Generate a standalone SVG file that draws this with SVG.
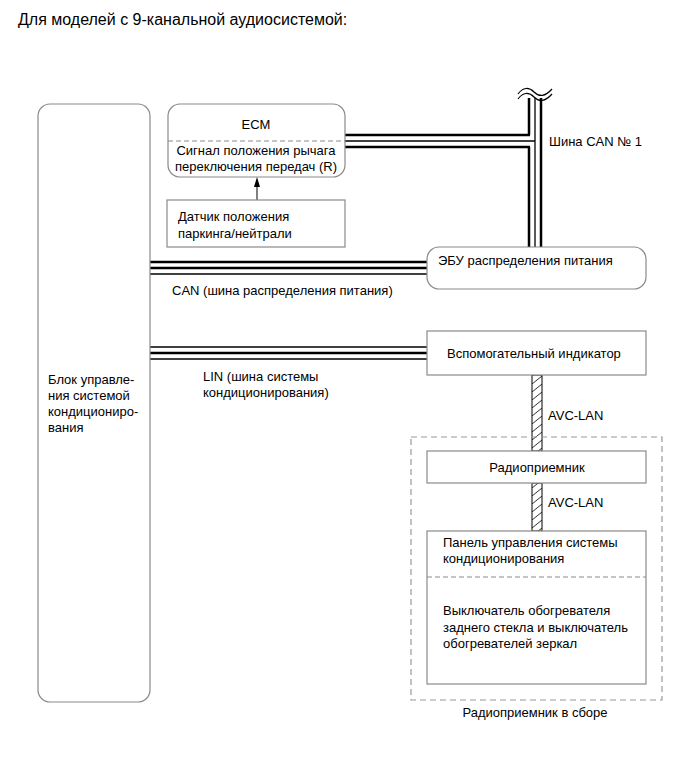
<svg xmlns="http://www.w3.org/2000/svg" width="687" height="759" viewBox="0 0 687 759">
<defs>
<style>
text{font-family:"Liberation Sans",Arial,sans-serif;font-size:13px;fill:#000}
.title{font-size:16px}
.box{fill:#fff;stroke:#8a8a8a;stroke-width:1.2}
.dv{stroke:#8a8a8a;stroke-width:1;stroke-dasharray:5 3;fill:none}
.outer{stroke:#999;stroke-width:1.2;stroke-dasharray:6 4;fill:none}
.bw{stroke:#000;stroke-width:2.5;fill:none}
.bn{stroke:#000;stroke-width:1.3;fill:none}
.hat{fill:url(#hatch);stroke:#000;stroke-width:1}
.mid{text-anchor:middle}
</style>
<pattern id="hatch" patternUnits="userSpaceOnUse" x="532" y="0" width="10" height="8">
<path d="M0,8 L10,0" stroke="#000" stroke-width="0.8"/>
</pattern>
</defs>
<rect width="687" height="759" fill="#fff"/>
<text class="title" x="18" y="25">Для моделей с 9-канальной аудиосистемой:</text>

<g id="connectors">
<path class="bw" d="M529,98 V135"/>
<path class="bw" d="M529,147 V247"/>
<path class="bn" d="M535,98 V247"/>
<path class="bw" d="M541,98 V247"/>
<path class="bw" d="M345,135 H530"/>
<path class="bn" d="M345,141 H535"/>
<path class="bw" d="M345,147 H530"/>
<path d="M518,94 C523,87 529,87 534,92 C539,97 545,97 552,89" stroke="#000" stroke-width="1.2" fill="none"/>
<path d="M518,99 C523,92 529,92 534,97 C539,102 545,102 552,94" stroke="#000" stroke-width="1.2" fill="none"/>
<path class="bw" d="M150,262 H427"/>
<path class="bw" d="M150,268 H427"/>
<path class="bn" d="M150,274 H427"/>
<path class="bn" d="M150,347 H427" stroke="#777"/>
<path class="bw" d="M150,353 H427"/>
<path class="bn" d="M150,359 H427"/>
<rect class="hat" x="532" y="375" width="10" height="76"/>
<rect class="hat" x="532" y="483" width="10" height="48"/>
<path d="M257,200 V185" stroke="#000" stroke-width="1"/>
<polygon points="257,177 254,187 260,187" fill="#000"/>
</g>

<g id="labels">
<text x="549" y="146">Шина CAN № 1</text>
<text x="172" y="295">CAN (шина распределения питания)</text>
<text x="203" y="381">LIN (шина системы</text>
<text x="203" y="397">кондиционирования)</text>
<text x="548" y="420">AVC-LAN</text>
<text x="548" y="507">AVC-LAN</text>
</g>

<g id="climate-ecu">
<rect class="box" x="38" y="104" width="112" height="598" rx="12"/>
<text x="48" y="384">Блок управле-</text>
<text x="48" y="400">ния системой</text>
<text x="48" y="416">кондициониро-</text>
<text x="48" y="432">вания</text>
</g>

<g id="ecm">
<rect class="box" x="168" y="104" width="177" height="73" rx="12"/>
<line class="dv" x1="168" y1="141" x2="345" y2="141"/>
<text class="mid" x="256" y="129">ECM</text>
<text class="mid" x="256" y="155">Сигнал положения рычага</text>
<text class="mid" x="256" y="171">переключения передач (R)</text>
</g>

<g id="sensor">
<rect class="box" x="167" y="200" width="178" height="47"/>
<text x="178" y="221">Датчик положения</text>
<text x="178" y="238">паркинга/нейтрали</text>
</g>

<g id="power-ecu">
<rect class="box" x="427" y="247" width="219" height="42" rx="12"/>
<text x="438" y="265">ЭБУ распределения питания</text>
</g>

<g id="sub-indicator">
<rect class="box" x="427" y="331" width="219" height="44"/>
<text x="447" y="358">Вспомогательный индикатор</text>
</g>

<g id="radio-assembly">
<rect class="outer" x="411" y="437" width="251" height="263"/>
<text class="mid" x="535" y="717">Радиоприемник в сборе</text>
</g>

<g id="radio">
<rect class="box" x="427" y="451" width="219" height="32"/>
<text class="mid" x="537" y="472">Радиоприемник</text>
</g>

<g id="panel">
<rect class="box" x="427" y="531" width="219" height="153"/>
<line class="dv" x1="427" y1="577" x2="646" y2="577"/>
<text x="443" y="547">Панель управления системы</text>
<text x="443" y="563">кондиционирования</text>
<text x="443" y="615">Выключатель обогревателя</text>
<text x="443" y="632">заднего стекла и выключатель</text>
<text x="443" y="648">обогревателей зеркал</text>
</g>
</svg>
